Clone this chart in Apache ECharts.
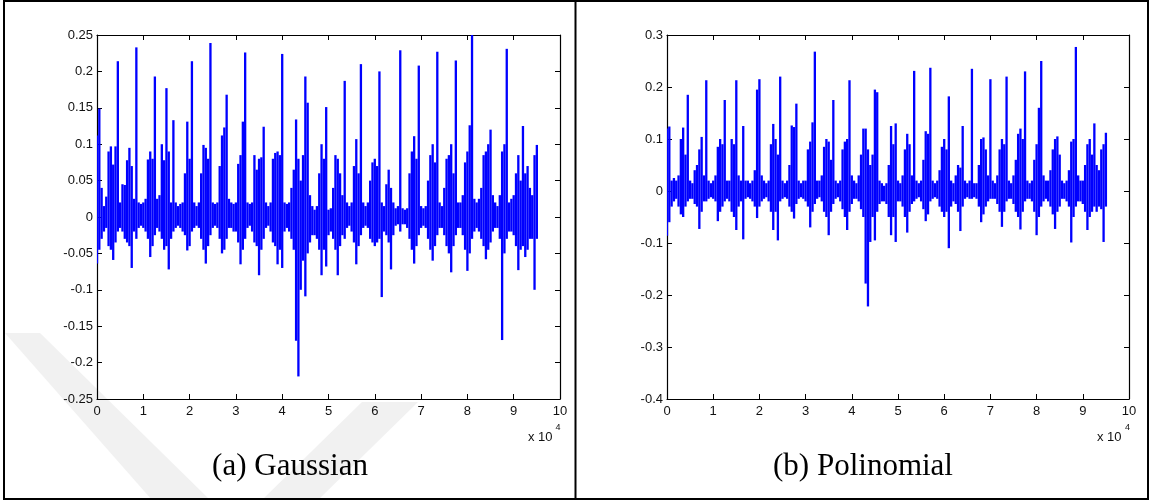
<!DOCTYPE html>
<html>
<head>
<meta charset="utf-8">
<script src="https://cdn.jsdelivr.net/npm/echarts@6/dist/echarts.min.js"></script>
<style>
html,body{margin:0;padding:0;background:#fff;}
#c{width:1153px;height:504px;}
</style>
</head>
<body>
<div id="c"></div>
<script>
// x positions are in units of 10^4 samples; one envelope column every STEP
const STEP = 0.05;

// (a) Gaussian — upper and lower envelope of the trace per column (0.00 .. 9.50)
const gaussHi = [
 0.112,0.149,0.04,0.015,0.028,0.09,0.097,0.072,0.097,0.214,0.02,0.045,0.044,0.078,0.095,0.07,0.025,0.233,0.02,0.018,
 0.02,0.025,0.079,0.09,0.08,0.193,0.025,0.03,0.1,0.078,0.177,0.09,0.02,0.133,0.02,0.015,0.018,0.02,0.06,0.131,
 0.08,0.214,0.02,0.015,0.02,0.06,0.099,0.095,0.08,0.239,0.02,0.018,0.02,0.07,0.112,0.123,0.168,0.025,0.02,0.018,
 0.02,0.073,0.085,0.131,0.226,0.02,0.018,0.02,0.085,0.065,0.08,0.082,0.124,0.02,0.015,0.02,0.08,0.088,0.09,0.085,
 0.224,0.02,0.018,0.02,0.04,0.065,0.134,0.08,0.05,0.085,0.193,0.157,0.03,0.015,0.01,0.015,0.06,0.1,0.08,0.151,
 0.01,0.012,0.04,0.085,0.08,0.06,0.03,0.187,0.02,0.015,0.02,0.07,0.107,0.06,0.21,0.02,0.015,0.02,0.05,0.075,
 0.08,0.07,0.2,0.02,0.015,0.045,0.065,0.04,0.02,0.012,0.015,0.229,0.012,0.01,0.012,0.06,0.09,0.111,0.08,0.208,
 0.015,0.012,0.015,0.05,0.085,0.1,0.075,0.227,0.02,0.015,0.04,0.08,0.085,0.1,0.06,0.215,0.02,0.02,0.03,0.075,
 0.09,0.126,0.25,0.025,0.02,0.025,0.04,0.085,0.09,0.1,0.12,0.03,0.02,0.015,0.03,0.09,0.1,0.231,0.02,0.025,
 0.03,0.06,0.085,0.05,0.125,0.06,0.07,0.04,0.03,0.085,0.099
];
const gaussLo = [
 -0.064,-0.045,-0.03,-0.02,-0.015,-0.04,-0.045,-0.059,-0.035,-0.02,-0.015,-0.02,-0.03,-0.035,-0.04,-0.07,-0.02,-0.03,-0.015,-0.012,
 -0.015,-0.02,-0.03,-0.055,-0.04,-0.025,-0.015,-0.02,-0.03,-0.045,-0.04,-0.072,-0.03,-0.02,-0.015,-0.012,-0.015,-0.02,-0.025,-0.046,
 -0.04,-0.02,-0.015,-0.012,-0.015,-0.03,-0.045,-0.064,-0.04,-0.025,-0.015,-0.012,-0.015,-0.03,-0.05,-0.045,-0.03,-0.015,-0.015,-0.02,
 -0.02,-0.035,-0.065,-0.045,-0.03,-0.015,-0.012,-0.02,-0.035,-0.04,-0.08,-0.045,-0.03,-0.015,-0.012,-0.02,-0.035,-0.04,-0.065,-0.045,
 -0.07,-0.02,-0.015,-0.02,-0.03,-0.045,-0.17,-0.219,-0.1,-0.06,-0.109,-0.05,-0.035,-0.025,-0.025,-0.03,-0.045,-0.08,-0.045,-0.068,
 -0.025,-0.02,-0.03,-0.045,-0.08,-0.04,-0.025,-0.03,-0.015,-0.012,-0.02,-0.035,-0.065,-0.04,-0.025,-0.015,-0.012,-0.015,-0.03,-0.035,
 -0.04,-0.035,-0.03,-0.11,-0.02,-0.025,-0.035,-0.072,-0.025,-0.012,-0.01,-0.02,-0.01,-0.01,-0.015,-0.03,-0.045,-0.064,-0.04,-0.025,
 -0.015,-0.012,-0.015,-0.03,-0.045,-0.06,-0.04,-0.025,-0.015,-0.015,-0.025,-0.04,-0.05,-0.076,-0.04,-0.025,-0.015,-0.015,-0.025,-0.045,
 -0.074,-0.05,-0.03,-0.02,-0.015,-0.02,-0.03,-0.04,-0.058,-0.045,-0.035,-0.02,-0.015,-0.015,-0.03,-0.169,-0.05,-0.03,-0.02,-0.02,
 -0.025,-0.04,-0.073,-0.045,-0.04,-0.055,-0.045,-0.03,-0.03,-0.1,-0.03
];

// (b) Polinomial
const polyHi = [
 0.12,0.124,0.02,0.025,0.02,0.03,0.1,0.122,0.07,0.185,0.02,0.015,0.04,0.05,0.08,0.104,0.03,0.213,0.02,0.015,
 0.02,0.03,0.085,0.1,0.09,0.175,0.02,0.02,0.1,0.09,0.213,0.03,0.02,0.125,0.02,0.02,0.015,0.02,0.04,0.195,
 0.215,0.03,0.02,0.015,0.02,0.09,0.129,0.1,0.07,0.22,0.02,0.015,0.02,0.05,0.126,0.123,0.168,0.02,0.015,0.02,
 0.02,0.08,0.095,0.132,0.268,0.02,0.02,0.03,0.085,0.1,0.095,0.06,0.175,0.02,0.015,0.02,0.08,0.095,0.1,0.213,
 0.03,0.02,0.015,0.03,0.07,0.12,0.12,0.08,0.05,0.07,0.195,0.19,0.02,0.015,0.01,0.015,0.05,0.125,0.09,0.13,
 0.02,0.015,0.03,0.08,0.11,0.09,0.03,0.231,0.02,0.015,0.02,0.06,0.115,0.11,0.237,0.02,0.015,0.02,0.04,0.085,
 0.1,0.08,0.182,0.02,0.015,0.03,0.05,0.045,0.125,0.02,0.015,0.02,0.235,0.015,0.015,0.05,0.1,0.103,0.08,0.03,
 0.215,0.02,0.015,0.03,0.08,0.1,0.09,0.22,0.02,0.015,0.03,0.06,0.11,0.12,0.1,0.23,0.02,0.015,0.02,0.06,
 0.09,0.16,0.25,0.03,0.02,0.02,0.04,0.08,0.1,0.105,0.07,0.02,0.015,0.02,0.04,0.095,0.1,0.277,0.03,0.02,
 0.02,0.05,0.09,0.1,0.07,0.13,0.05,0.04,0.08,0.09,0.112
];
const polyLo = [
 -0.086,-0.06,-0.03,-0.02,-0.015,-0.03,-0.045,-0.05,-0.03,-0.02,-0.015,-0.015,-0.025,-0.03,-0.073,-0.04,-0.02,-0.02,-0.015,-0.012,
 -0.015,-0.02,-0.058,-0.04,-0.03,-0.02,-0.015,-0.02,-0.04,-0.05,-0.075,-0.03,-0.02,-0.093,-0.015,-0.012,-0.015,-0.02,-0.03,-0.052,
 -0.03,-0.02,-0.015,-0.012,-0.02,-0.04,-0.075,-0.04,-0.095,-0.02,-0.015,-0.012,-0.015,-0.03,-0.04,-0.053,-0.025,-0.015,-0.012,-0.015,
 -0.02,-0.03,-0.07,-0.04,-0.025,-0.015,-0.012,-0.02,-0.04,-0.05,-0.085,-0.04,-0.025,-0.015,-0.012,-0.02,-0.035,-0.05,-0.075,-0.04,
 -0.025,-0.015,-0.015,-0.02,-0.035,-0.05,-0.178,-0.222,-0.098,-0.05,-0.095,-0.04,-0.025,-0.02,-0.02,-0.025,-0.05,-0.085,-0.05,-0.098,
 -0.02,-0.02,-0.03,-0.05,-0.08,-0.04,-0.025,-0.02,-0.015,-0.012,-0.02,-0.035,-0.058,-0.045,-0.02,-0.015,-0.012,-0.015,-0.03,-0.04,
 -0.05,-0.04,-0.11,-0.03,-0.02,-0.025,-0.04,-0.077,-0.03,-0.015,-0.012,-0.015,-0.015,-0.012,-0.015,-0.03,-0.06,-0.045,-0.03,-0.02,
 -0.015,-0.015,-0.015,-0.025,-0.04,-0.069,-0.04,-0.02,-0.015,-0.015,-0.025,-0.04,-0.05,-0.074,-0.04,-0.02,-0.015,-0.015,-0.02,-0.04,
 -0.085,-0.05,-0.03,-0.02,-0.015,-0.02,-0.03,-0.045,-0.073,-0.04,-0.03,-0.015,-0.015,-0.02,-0.03,-0.099,-0.05,-0.03,-0.02,-0.02,
 -0.025,-0.04,-0.075,-0.05,-0.04,-0.03,-0.04,-0.03,-0.035,-0.098,-0.03
];

const captions = ['(a) Gaussian', '(b) Polinomial'];
const expLabel = 'x 10';
const expPower = '4';

// each column is drawn as a vertical stroke from its lower to its upper value
function columns(hi, lo) {
  const d = [];
  for (let i = 0; i < hi.length; i++) d.push([i * STEP, lo[i], hi[i]]);
  return d;
}
function renderColumn(params, api) {
  const a = api.coord([api.value(0), api.value(1)]);
  const b = api.coord([api.value(0), api.value(2)]);
  const w = api.size([STEP, 0])[0];
  return {
    type: 'line',
    shape: { x1: a[0], y1: a[1], x2: b[0], y2: b[1] },
    style: { stroke: '#0000ff', lineWidth: w, lineCap: 'butt' }
  };
}

const FONT = 'Liberation Sans, Arial, sans-serif';
const tickFmt = v => String(+(+v).toFixed(3));

function xAx(grid, top) {
  return {
    type: 'value', gridIndex: grid, min: 0, max: 10, interval: 1,
    position: top ? 'top' : 'bottom',
    axisLine: { show: true, onZero: false, lineStyle: { color: '#000', width: 1.2 } },
    axisTick: { show: true, inside: true, length: 5, lineStyle: { color: '#000', width: 1 } },
    axisLabel: { show: !top, margin: 6, fontSize: 13, fontFamily: FONT, color: '#111', formatter: tickFmt },
    splitLine: { show: false }
  };
}
function yAx(grid, right, min, max, step) {
  return {
    type: 'value', gridIndex: grid, min: min, max: max, interval: step,
    position: right ? 'right' : 'left',
    axisLine: { show: true, onZero: false, lineStyle: { color: '#000', width: 1.2 } },
    axisTick: { show: true, inside: true, length: 5, lineStyle: { color: '#000', width: 1 } },
    axisLabel: { show: !right, margin: 4, fontSize: 13, fontFamily: FONT, color: '#111', formatter: tickFmt },
    splitLine: { show: false }
  };
}

const WM = '#f1f1f1';
const chart = echarts.init(document.getElementById('c'), null, { renderer: 'canvas' });
chart.setOption({
  animation: false,
  backgroundColor: '#fff',
  grid: [
    { left: 97, top: 35, width: 463, height: 364 },
    { left: 667, top: 35, width: 462, height: 364 }
  ],
  xAxis: [xAx(0, false), xAx(0, true), xAx(1, false), xAx(1, true)],
  yAxis: [yAx(0, false, -0.25, 0.25, 0.05), yAx(0, true, -0.25, 0.25, 0.05),
          yAx(1, false, -0.4, 0.3, 0.1), yAx(1, true, -0.4, 0.3, 0.1)],
  series: [
    { type: 'custom', xAxisIndex: 0, yAxisIndex: 0, data: columns(gaussHi, gaussLo),
      renderItem: renderColumn, clip: true, z: 5, encode: { x: 0, y: [1, 2] } },
    { type: 'custom', xAxisIndex: 2, yAxisIndex: 2, data: columns(polyHi, polyLo),
      renderItem: renderColumn, clip: true, z: 5, encode: { x: 0, y: [1, 2] } }
  ],
  graphic: [
    { type: 'polygon', z: -10, shape: { points: [[5,333],[40,333],[210,500],[152,500]] }, style: { fill: WM } },
    { type: 'polygon', z: -10, shape: { points: [[262,500],[318,500],[418,402],[362,402]] }, style: { fill: WM } },
    { type: 'rect', shape: { x: 4, y: 1, width: 1144, height: 498 }, style: { fill: 'none', stroke: '#000', lineWidth: 2 }, z: 100 },
    { type: 'line', shape: { x1: 575.5, y1: 0, x2: 575.5, y2: 500 }, style: { stroke: '#000', lineWidth: 2 }, z: 100 },
    { type: 'text', x: 290, y: 467, style: { text: captions[0], font: '31px "Liberation Serif", "Times New Roman", serif', fill: '#000', align: 'center', verticalAlign: 'middle' } },
    { type: 'text', x: 863, y: 467, style: { text: captions[1], font: '31px "Liberation Serif", "Times New Roman", serif', fill: '#000', align: 'center', verticalAlign: 'middle' } },
    { type: 'text', x: 528, y: 437, style: { text: expLabel, font: '13px ' + FONT, fill: '#111', align: 'left', verticalAlign: 'middle' } },
    { type: 'text', x: 555.5, y: 428, style: { text: expPower, font: '9px ' + FONT, fill: '#111', align: 'left', verticalAlign: 'middle' } },
    { type: 'text', x: 1097, y: 437, style: { text: expLabel, font: '13px ' + FONT, fill: '#111', align: 'left', verticalAlign: 'middle' } },
    { type: 'text', x: 1125, y: 428, style: { text: expPower, font: '9px ' + FONT, fill: '#111', align: 'left', verticalAlign: 'middle' } }
  ]
});
</script>
</body>
</html>
